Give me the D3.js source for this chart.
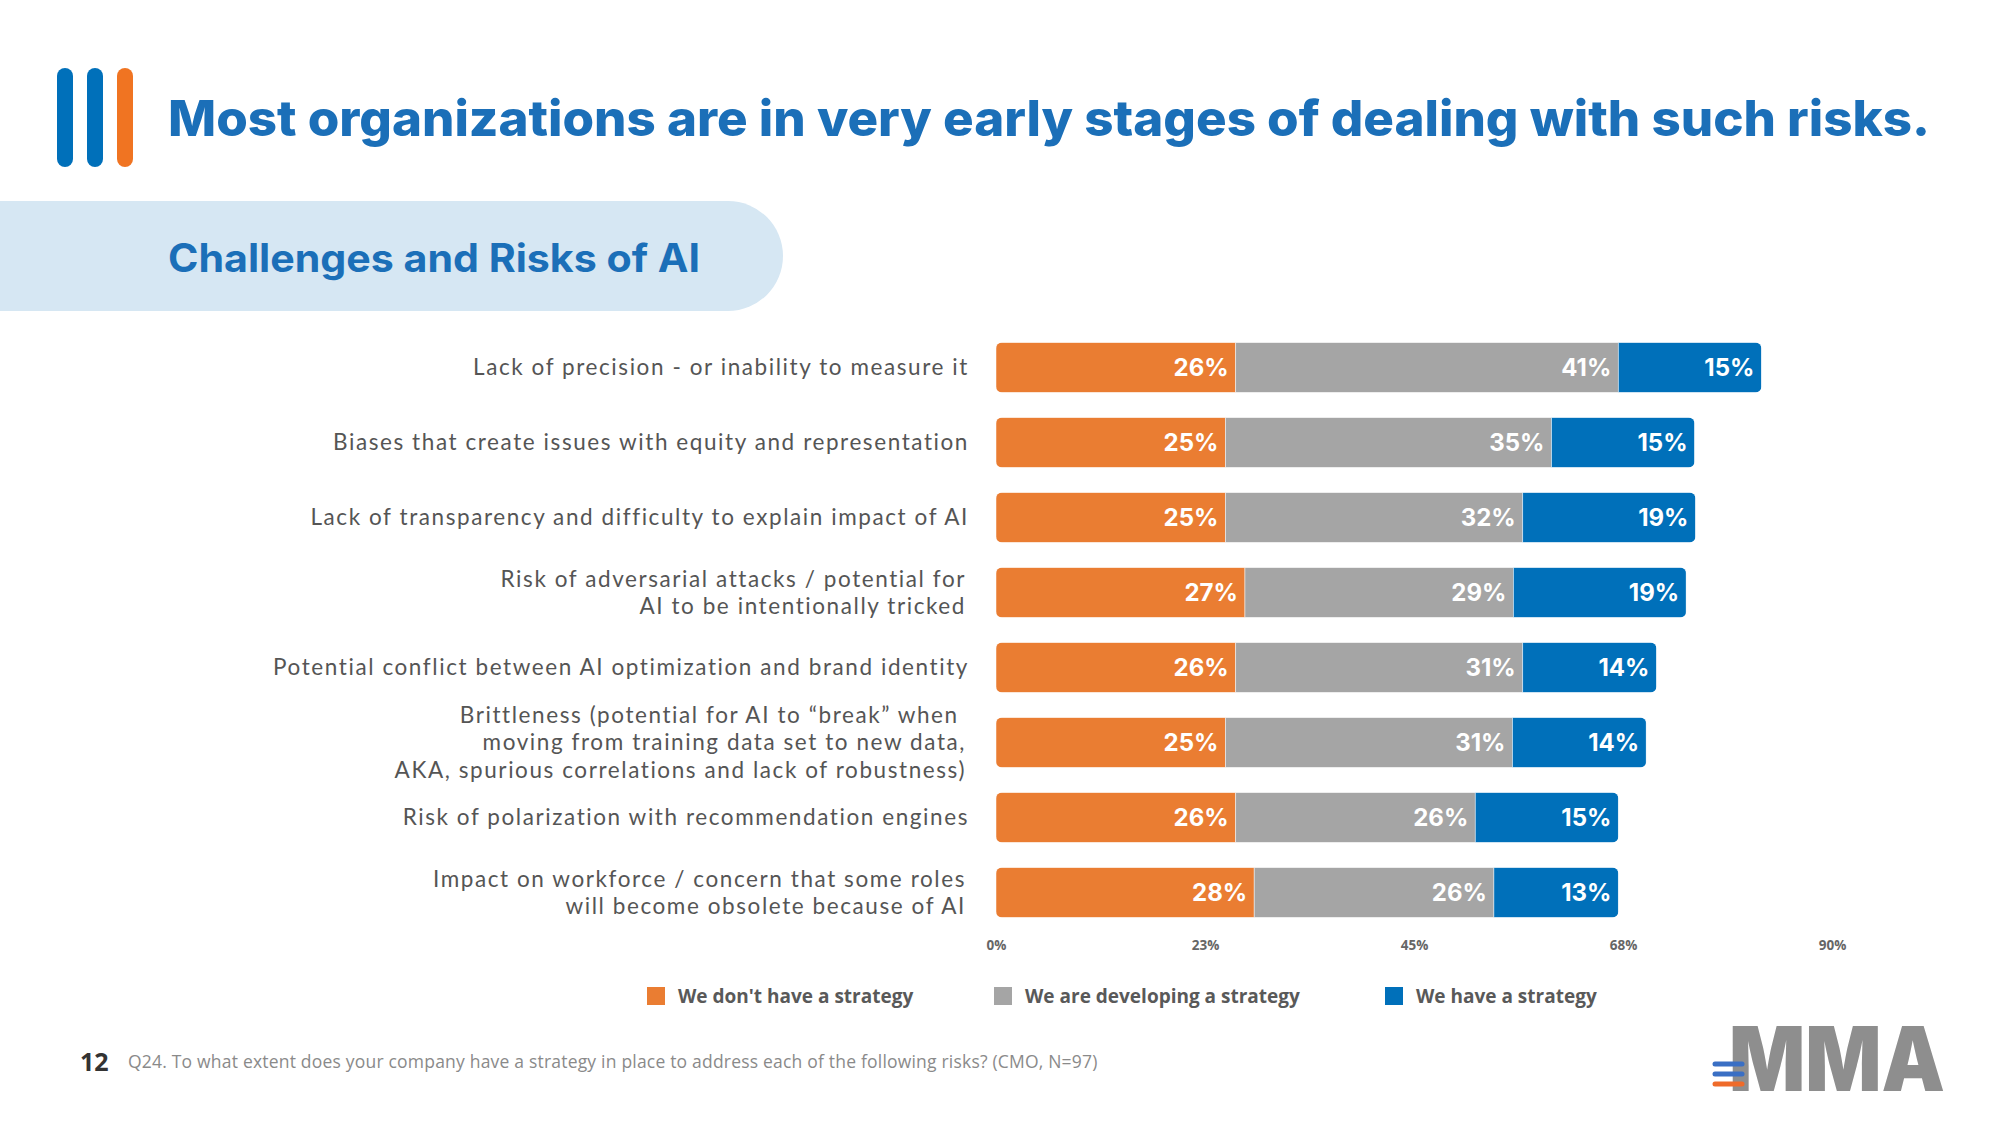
<!DOCTYPE html>
<html><head><meta charset="utf-8">
<script src="https://cdn.jsdelivr.net/npm/d3@7"></script>
<style>
html,body{margin:0;padding:0;background:#fff;}
svg{display:block;}
</style></head>
<body>
<svg id="chart" width="2000" height="1125"></svg>
<script>
const categories = [
  ["Lack of precision - or inability to measure it"],
  ["Biases that create issues with equity and representation"],
  ["Lack of transparency and difficulty to explain impact of AI"],
  ["Risk of adversarial attacks / potential for", "AI to be intentionally tricked"],
  ["Potential conflict between AI optimization and brand identity"],
  ["Brittleness (potential for AI to \u201cbreak\u201d when ", "moving from training data set to new data,", "AKA, spurious correlations and lack of robustness)"],
  ["Risk of polarization with recommendation engines"],
  ["Impact on workforce / concern that some roles", "will become obsolete because of AI"]
];
const seriesNames = ["We don't have a strategy", "We are developing a strategy", "We have a strategy"];
const noStrategy = [0.258, 0.247, 0.247, 0.268, 0.258, 0.247, 0.258, 0.278];
const developing = [0.412, 0.351, 0.320, 0.289, 0.309, 0.309, 0.258, 0.258];
const haveStrategy = [0.154, 0.154, 0.186, 0.186, 0.144, 0.144, 0.154, 0.134];
const tickValues = [0, 0.225, 0.45, 0.675, 0.9];
const tickLabels = ["0%", "23%", "45%", "68%", "90%"];
const title = "Most organizations are in very early stages of dealing with such risks.";
const subtitle = "Challenges and Risks of AI";
const pageNumber = "12";
const footnote = "Q24. To what extent does your company have a strategy in place to address each of the following risks? (CMO, N=97)";

const colors = ["#EA7D32", "#A5A5A5", "#0070BA"];
const svg = d3.select("#chart");
const FONT = "'Open Sans', sans-serif";

// header icon bars
const iconColors = ["#0070BA", "#0070BA", "#F07422"];
svg.selectAll("rect.icon").data(iconColors).join("rect")
  .attr("x", (d, i) => 57 + i * 30).attr("y", 68).attr("width", 16).attr("height", 99)
  .attr("rx", 8).attr("fill", d => d);

svg.append("text").attr("x", 168).attr("y", 136)
  .attr("font-family", "Inter, sans-serif").attr("font-weight", 800).attr("font-size", 50)
  .attr("fill", "#1B6FB8").text(title)
  .each(function(){ const w = this.getComputedTextLength(); if (Math.abs(w-1762) > 4) d3.select(this).attr("textLength", 1762).attr("lengthAdjust","spacingAndGlyphs"); });

// banner
svg.append("rect").attr("x", -60).attr("y", 201).attr("width", 843).attr("height", 110)
  .attr("rx", 55).attr("fill", "#D6E7F3");
svg.append("text").attr("x", 168).attr("y", 272)
  .attr("font-family", "Inter, sans-serif").attr("font-weight", 700).attr("font-size", 39)
  .attr("fill", "#1B6FB8").text(subtitle)
  .each(function(){ const w = this.getComputedTextLength(); if (Math.abs(w-532) > 4) d3.select(this).attr("textLength", 532).attr("lengthAdjust","spacingAndGlyphs"); });

// scales
const x = d3.scaleLinear().domain([0, 0.9]).range([996, 1832]);
const y = d3.scaleBand().domain(d3.range(categories.length)).range([330, 930]).paddingInner(1/3).paddingOuter(1/6);

const rows = categories.map((c, i) => {
  const vals = [noStrategy[i], developing[i], haveStrategy[i]];
  let acc = 0;
  const segs = vals.map((v, k) => { const s = {x0: acc, x1: acc + v, v, k}; acc += v; return s; });
  return {i, segs, total: acc};
});

const defs = svg.append("defs");
rows.forEach(r => {
  defs.append("clipPath").attr("id", "clip" + r.i).append("rect")
    .attr("x", x(0)).attr("y", y(r.i)).attr("width", x(r.total) - x(0)).attr("height", y.bandwidth()).attr("rx", 6);
});

const g = svg.append("g");
const rowG = g.selectAll("g.row").data(rows).join("g").attr("class", "row")
  .attr("clip-path", d => `url(#clip${d.i})`);
rowG.selectAll("rect").data(d => d.segs.map(s => ({...s, i: d.i}))).join("rect")
  .attr("x", s => x(s.x0)).attr("y", s => y(s.i))
  .attr("width", s => x(s.x1) - x(s.x0)).attr("height", y.bandwidth())
  .attr("fill", s => colors[s.k]).attr("stroke", "#ffffff").attr("stroke-width", 0.8).attr("stroke-opacity", 0.6);

g.selectAll("g.lbl").data(rows).join("g").attr("class", "lbl")
  .selectAll("text").data(d => d.segs.map(s => ({...s, i: d.i}))).join("text")
  .attr("x", s => x(s.x1) - 7).attr("y", s => y(s.i) + y.bandwidth() / 2)
  .attr("dy", "0.36em").attr("text-anchor", "end")
  .attr("font-family", "Inter, sans-serif").attr("font-weight", 700).attr("font-size", 24)
  .attr("fill", "#fff").text(s => Math.round(s.v * 100) + "%");

// category labels (Lato: compact line box so stacked lines don't collide)
const lineH = 27.5;
const catFont = 22.5;
const catG = svg.append("g");
// letter spacing so that the first label spans its width in the reference
const probe = catG.append("text").attr("font-family", "Lato, sans-serif").attr("font-size", catFont).text(categories[0][0]);
const pw = probe.node().getComputedTextLength();
probe.remove();
const ls = Math.max(0, (496 - pw) / categories[0][0].length);
categories.forEach((lines, i) => {
  const cy = y(i) + y.bandwidth() / 2;
  const n = lines.length;
  lines.forEach((ln, j) => {
    catG.append("text").attr("text-anchor", "end")
      .attr("font-family", "Lato, sans-serif").attr("font-size", catFont).attr("letter-spacing", ls)
      .attr("fill", "#555555")
      .attr("x", n > 1 ? 966 : 969)
      .attr("y", cy + (j - (n - 1) / 2) * lineH).attr("dy", "0.35em")
      .attr("xml:space", "preserve").text(ln);
  });
});

// axis
const axis = d3.axisBottom(x).tickValues(tickValues).tickFormat((d, i) => tickLabels[i]).tickSize(0).tickPadding(0);
const ax = svg.append("g").attr("transform", "translate(0,940)").call(axis);
ax.select(".domain").remove();
ax.selectAll("text").attr("font-family", FONT).attr("font-weight", 700).attr("font-size", 13.5).attr("fill", "#666666");

// legend
const legendX = [647, 994, 1385];
const lg = svg.append("g").selectAll("g").data(seriesNames).join("g")
  .attr("transform", (d, i) => `translate(${legendX[i]},987)`);
lg.append("rect").attr("width", 18).attr("height", 18).attr("fill", (d, i) => colors[i]);
lg.append("text").attr("x", 31).attr("y", 9).attr("dy", "0.36em")
  .attr("font-family", FONT).attr("font-weight", 700).attr("font-size", 19).attr("fill", "#595959").text(d => d);

// footer
svg.append("text").attr("x", 80).attr("y", 1071)
  .attr("font-family", FONT).attr("font-weight", 700).attr("font-size", 25).attr("fill", "#333").text(pageNumber);
svg.append("text").attr("x", 128).attr("y", 1068)
  .attr("font-family", FONT).attr("font-size", 17.5).attr("letter-spacing", 0.2).attr("fill", "#8A8A8A").text(footnote);

// logo
const logo = svg.append("g");
logo.append("text").attr("x", 1729).attr("y", 1091)
  .attr("font-family", "Inter, sans-serif").attr("font-weight", 900).attr("font-size", 90)
  .attr("fill", "#8E8E8E").attr("textLength", 216).attr("lengthAdjust", "spacingAndGlyphs").text("MMA");
[["#3A6FC4", 1064], ["#3A6FC4", 1074], ["#EF6B2A", 1084]].forEach(([c, yy]) => {
  logo.append("line").attr("x1", 1715).attr("x2", 1742).attr("y1", yy).attr("y2", yy)
    .attr("stroke", c).attr("stroke-width", 5).attr("stroke-linecap", "round");
});
</script>
</body></html>
